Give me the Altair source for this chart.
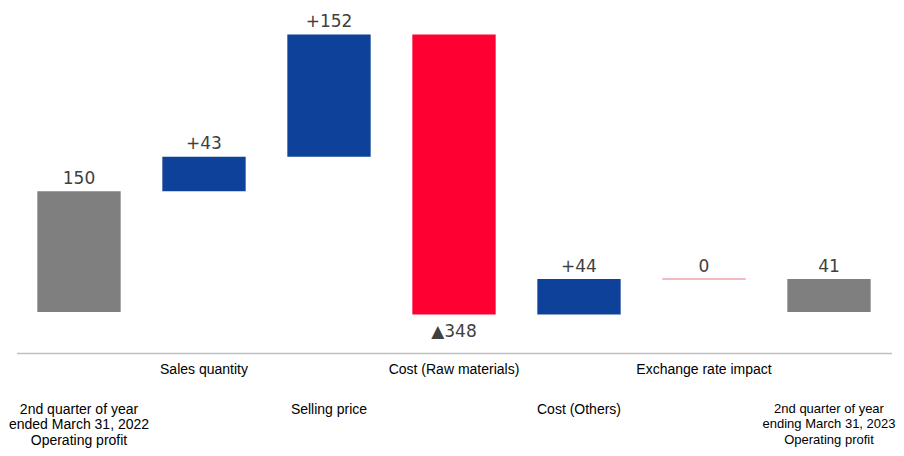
import json
import altair as alt
import pandas as pd

# ---- data ----
categories = [
    "2nd quarter of year\nended March 31, 2022\nOperating profit",
    "Sales quantity",
    "Selling price",
    "Cost (Raw materials)",
    "Cost (Others)",
    "Exchange rate impact",
    "2nd quarter of year\nending March 31, 2023\nOperating profit",
]
amounts = [150, 43, 152, -348, 44, 0, 41]
kinds = ["total", "delta", "delta", "delta", "delta", "delta", "total"]
value_labels = ["150", "+43", "+152", "\u25b2348", "+44", "0", "41"]
lower_row = [categories[i] for i in (0, 2, 4, 6)]

# ---- waterfall geometry derived from the amounts ----
starts, ends, groups = [], [], []
running = 0
for a, k in zip(amounts, kinds):
    if k == "total":
        starts.append(0)
        ends.append(a)
        running = a
        groups.append("total")
    else:
        starts.append(running)
        running += a
        ends.append(running)
        groups.append("up" if a > 0 else ("down" if a < 0 else "flat"))

df = pd.DataFrame({
    "category": categories,
    "amount": amounts,
    "start": starts,
    "end": ends,
    "group": groups,
    "label": value_labels,
})
df["top"] = df[["start", "end"]].max(axis=1)
df["bottom"] = df[["start", "end"]].min(axis=1)

lower_test = "indexof(" + json.dumps(lower_row) + ", datum.value) >= 0"
last_cat = json.dumps(categories[-1])

x_enc = alt.X(
    "category:N",
    sort=categories,
    scale=alt.Scale(paddingInner=1 / 3, paddingOuter=1 / 6),
    axis=alt.Axis(
        title=None,
        labelAngle=0,
        labelExpr="split(datum.value, '\\n')",
        labelFont="Liberation Sans",
        labelFontSize={"condition": {"test": "datum.value == " + last_cat, "value": 13}, "value": 14},
        labelColor="#000000",
        labelLineHeight=15.5,
        labelPadding={"condition": {"test": lower_test, "value": 49}, "value": 9},
        labelOverlap=False,
        labelBound=False,
        labelLimit=300,
        ticks=False,
        tickSize=0,
        domainColor="#BFBFBF",
        domainWidth=1.5,
    ),
)
y_scale = alt.Scale(domain=[-51, 378], nice=False, zero=False)

base = alt.Chart(df)

bars = base.transform_filter("datum.group != 'flat'").mark_bar().encode(
    x=x_enc,
    y=alt.Y("start:Q", scale=y_scale, axis=None),
    y2="end:Q",
    color=alt.Color(
        "group:N",
        scale=alt.Scale(domain=["total", "up", "down"], range=["#7F7F7F", "#0D419A", "#FF0033"]),
        legend=None,
    ),
)

flat = base.transform_filter("datum.group == 'flat'").mark_bar(
    stroke="#F2A2AA", strokeWidth=1, fillOpacity=0
).encode(
    x=alt.X("category:N", sort=categories),
    y=alt.Y("start:Q", scale=y_scale, axis=None),
    y2="end:Q",
)

labels_above = base.transform_filter("datum.amount >= 0").mark_text(
    font="DejaVu Sans", fontSize=17, color="#404040", baseline="alphabetic", dy=-7.5
).encode(
    x=alt.X("category:N", sort=categories),
    y=alt.Y("top:Q", scale=y_scale, axis=None),
    text="label:N",
)

labels_below = base.transform_filter("datum.amount < 0").mark_text(
    font="DejaVu Sans", fontSize=17, color="#404040", baseline="alphabetic", dy=22.5
).encode(
    x=alt.X("category:N", sort=categories),
    y=alt.Y("bottom:Q", scale=y_scale, axis=None),
    text="label:N",
)

chart = (
    alt.layer(bars, flat, labels_above, labels_below)
    .properties(
        width=875,
        height=345,
        autosize=alt.AutoSizeParams(type="none"),
        padding={"left": 8.5, "top": 0, "right": 4.5, "bottom": 95},
    )
    .configure_view(strokeWidth=0)
)

chart.save("out.html", embed_options={"renderer": "svg", "actions": False})
